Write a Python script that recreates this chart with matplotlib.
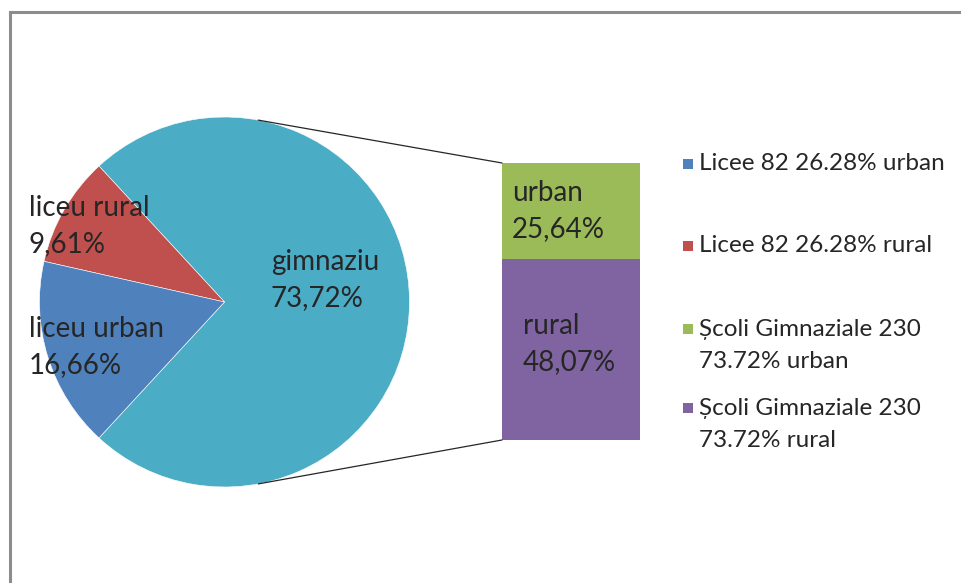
import matplotlib

matplotlib.use("Agg")
import matplotlib.pyplot as plt
from matplotlib.lines import Line2D
from matplotlib.patches import ConnectionPatch, Rectangle
import numpy as np

plt.rcParams["font.family"] = ["Lato", "DejaVu Sans"]

# pie: share of schools
PIE_LABELS = ["gimnaziu", "liceu rural", "liceu urban"]
PIE_VALUES = [73.72, 9.61, 16.66]
PIE_COLORS = ["#4BACC6", "#C0504D", "#4F81BD"]

# bar: split of the gimnaziu slice
BAR_LABELS = ["rural", "urban"]
BAR_VALUES = [48.07, 25.64]
BAR_COLORS = ["#8064A2", "#9BBB59"]

LEGEND_LABELS = [
    "Licee 82 26.28% urban",
    "Licee 82 26.28% rural",
    "Școli Gimnaziale 230\n73.72% urban",
    "Școli Gimnaziale 230\n73.72% rural",
]
LEGEND_COLORS = ["#4F81BD", "#C0504D", "#9BBB59", "#8064A2"]

W, H = 962, 583
TXT = "#262626"


def pct(v):
    return f"{v:.2f}".replace(".", ",") + "%"


fig = plt.figure(figsize=(W / 100, H / 100), dpi=100)
fig.patch.set_facecolor("white")

# pie axes in pixel units (y measured from the bottom)
ax = fig.add_axes([0, 0, 1, 1])

cx, cy, r = 224.5, H - 302, 185
gim_deg = PIE_VALUES[0] / sum(PIE_VALUES) * 360
ax.pie(PIE_VALUES, colors=PIE_COLORS, startangle=-gim_deg / 2, counterclock=True,
       center=(cx, cy), radius=r, frame=True,
       wedgeprops=dict(edgecolor="white", linewidth=0.4))
ax.set_xlim(0, W)
ax.set_ylim(0, H)
ax.set_aspect("auto")
ax.axis("off")

fs = 20
ls = 1.45
ax.text(271, H - 280, f"{PIE_LABELS[0]}\n{pct(PIE_VALUES[0])}", fontsize=fs, color=TXT,
        ha="left", va="center", linespacing=ls)
ax.text(29, H - 226, f"{PIE_LABELS[1]}\n{pct(PIE_VALUES[1])}", fontsize=fs, color=TXT,
        ha="left", va="center", linespacing=ls)
ax.text(29, H - 347, f"{PIE_LABELS[2]}\n{pct(PIE_VALUES[2])}", fontsize=fs, color=TXT,
        ha="left", va="center", linespacing=ls)

# stacked bar of the gimnaziu split
bx0, bx1, by0, by1 = 502, 640, 440, 163
bax = fig.add_axes([bx0 / W, (H - by0) / H, (bx1 - bx0) / W, (by0 - by1) / H])
total = sum(BAR_VALUES)
bottom = 0
for lab, val, col in zip(BAR_LABELS, BAR_VALUES, BAR_COLORS):
    bax.bar(0, val, bottom=bottom, width=1.0, color=col, edgecolor="none")
    bottom += val
bax.set_xlim(-0.5, 0.5)
bax.set_ylim(0, total)
bax.axis("off")
bax.text(-0.35, BAR_VALUES[0] / 2 + 1.5, f"{BAR_LABELS[0]}\n{pct(BAR_VALUES[0])}", fontsize=fs,
         color=TXT, ha="left", va="center", linespacing=ls)
bax.text(-0.43, BAR_VALUES[0] + BAR_VALUES[1] / 2, f"{BAR_LABELS[1]}\n{pct(BAR_VALUES[1])}", fontsize=fs,
         color=TXT, ha="left", va="center", linespacing=ls)

# connector lines from the pie to the bar
ang = np.deg2rad(79.5)
for sgn, yb in [(1, total), (-1, 0)]:
    p = (cx + r * np.cos(ang), cy + sgn * r * np.sin(ang))
    con = ConnectionPatch(xyA=p, coordsA=ax.transData, xyB=(-0.5, yb), coordsB=bax.transData,
                          color="#262626", linewidth=0.9)
    fig.add_artist(con)

# legend
ys = [164, 246, 329, 408]
for lab, col, y in zip(LEGEND_LABELS, LEGEND_COLORS, ys):
    ax.add_patch(Rectangle((683, H - y - 5), 10, 10, facecolor=col, edgecolor="none"))
    if "\n" in lab:
        ax.text(699, H - y + 10, lab, fontsize=17.5, color=TXT, ha="left", va="top",
                linespacing=1.65)
    else:
        ax.text(699, H - y, lab, fontsize=17.5, color=TXT, ha="left", va="center")

# chart frame (left and top edges visible)
fig.add_artist(Line2D([10 / W, 10 / W], [0, 1 - 12 / H], color="#8c8c8c", linewidth=2.2,
                      transform=fig.transFigure))
fig.add_artist(Line2D([10 / W, 1], [1 - 12 / H, 1 - 12 / H], color="#8c8c8c", linewidth=2.2,
                      transform=fig.transFigure))

fig.savefig("out.png", dpi=100)
